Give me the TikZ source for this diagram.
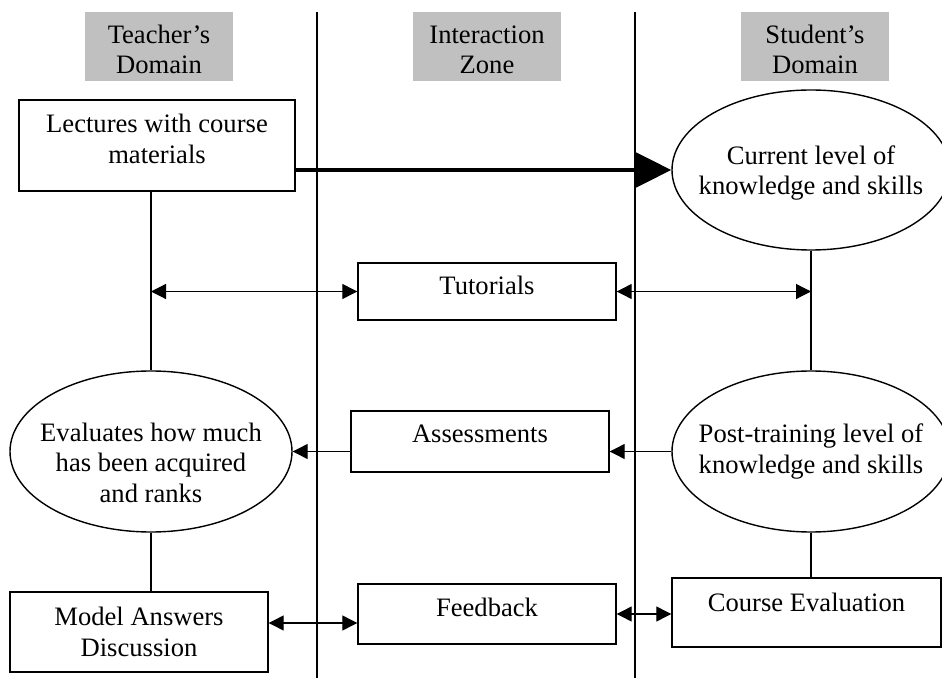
\documentclass[tikz,border=0pt]{standalone}
\usepackage{fontspec}
\setmainfont{Liberation Serif}
\usetikzlibrary{shapes.geometric,arrows.meta,calc}
\definecolor{zonegray}{RGB}{192,192,192}

\begin{document}
\begin{tikzpicture}[x=0.5pt,y=-0.5pt,
        font=\fontsize{13.3}{15.3}\selectfont,
        zone/.style={fill=zonegray, minimum width=74pt, minimum height=34.5pt, align=center, inner sep=0pt, text height=27.6pt},
        box/.style={draw, line width=0.7pt, align=center, inner sep=0pt},
        oval/.style={ellipse, draw, line width=0.7pt, align=center, inner xsep=-10pt, inner ysep=0pt},
        lift/.style={text depth=#1},
        drop/.style={text height=#1},
        link/.style={line width=0.6pt},
        tip/.style={line width=0.6pt, -{Triangle[length=7.5pt,width=7.5pt]}},
        both/.style={line width=0.6pt, {Triangle[length=7.5pt,width=7.5pt]}-{Triangle[length=7.5pt,width=7.5pt]}},
        bigarrow/.style={line width=2pt, -{Triangle[length=18.5pt,width=18pt]}}]
        \useasboundingbox (0,0) rectangle (942,678);

        \draw[link] (317, 12) -- (317, 678);
        \draw[link] (635, 12) -- (635, 678);

        \node[zone] (teacher) at (159, 46.5) {Teacher’s\\Domain};
        \node[zone] (zone) at (487, 46.5) {Interaction\\Zone};
        \node[zone] (student) at (815, 46.5) {Student’s\\Domain};

        \node[box, lift=6.5pt, minimum width=138pt, minimum height=45.5pt] (lect) at (157, 145.5) {Lectures with course\\materials};
        \node[oval, lift=0pt, minimum width=139pt, minimum height=80pt] (cur) at (811, 170) {Current level of\\knowledge and skills};
        \node[box, lift=6.5pt, minimum width=129pt, minimum height=28.5pt] (tut) at (487, 291.5) {Tutorials};
        \node[oval, drop=51pt, minimum width=141pt, minimum height=80.5pt] (eval) at (151, 451.5) {Evaluates how much\\has been acquired\\and ranks};
        \node[box, lift=7.5pt, minimum width=129pt, minimum height=30.5pt] (asm) at (480, 441.5) {Assessments};
        \node[oval, minimum width=139pt, minimum height=80.5pt] (post) at (811, 451.5) {Post-training level of\\knowledge and skills};
        \node[box, minimum width=129pt, minimum height=40pt] (mod) at (139, 632) {Model Answers\\Discussion};
        \node[box, lift=7pt, minimum width=129pt, minimum height=30pt] (fb) at (487, 614) {Feedback};
        \node[box, lift=10.5pt, minimum width=134.5pt, minimum height=34.5pt] (ce) at (806.5, 612.5) {Course Evaluation};

        \draw[link] (eval.north |- lect.south) -- (eval.north);
        \draw[link] (eval.south) -- (eval.south |- mod.north);
        \draw[link] (cur.south) -- (post.north);
        \draw[link] (post.south) -- (post.south |- ce.north);

        \draw[bigarrow] (lect.east |- cur.west) -- (cur.west);
        \draw[both] (eval.north |- tut.west) -- (tut.west);
        \draw[both] (tut.east) -- (cur.south |- tut.east);
        \draw[tip] (asm.west |- eval.east) -- (eval.east);
        \draw[tip] (post.west) -- (post.west -| asm.east);
        \coordinate (mid) at ($(mod.east)!0.5!(fb.west)$);
        \draw[both] (mod.east |- mid) -- (fb.west |- mid);
        \draw[both] (fb.east) -- (fb.east -| ce.west);

    \end{tikzpicture}
\end{document}
